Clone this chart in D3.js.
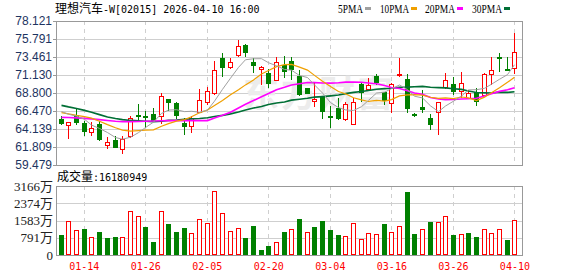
<!DOCTYPE html>
<html><head><meta charset="utf-8">
<script src="https://cdn.jsdelivr.net/npm/d3@7/dist/d3.min.js"></script>
<style>body{margin:0;background:#fff;}svg{display:block;}</style>
</head><body>
<svg id="chart" width="578" height="276"></svg>
<script>
const dates = ["01-09","01-12","01-13","01-14","01-15","01-16","01-19","01-20","01-21","01-22",
"01-23","01-26","01-27","01-28","01-29","01-30","02-02","02-03","02-04","02-05",
"02-06","02-09","02-10","02-11","02-12","02-13","02-16","02-20","02-23","02-24",
"02-25","02-26","02-27","03-02","03-03","03-04","03-05","03-06","03-09","03-10",
"03-11","03-12","03-13","03-16","03-17","03-18","03-19","03-20","03-23","03-24",
"03-25","03-26","03-27","03-30","03-31","04-01","04-02","04-08","04-09","04-10"];
const open = [65.43,64.62,65.95,64.96,63.80,64.74,62.11,62.72,61.51,63.19,
65.99,65.87,66.08,65.78,67.98,67.51,64.96,64.48,66.38,67.59,
68.76,73.29,72.17,73.72,74.97,72.86,71.95,71.43,70.44,72.40,
72.95,71.00,69.45,67.76,68.28,65.82,66.82,65.39,64.83,69.92,
69.36,71.00,68.97,67.55,71.17,70.57,66.12,66.99,65.56,66.34,
69.62,69.97,69.06,68.11,68.93,68.54,71.30,73.42,71.95,71.99];
const high = [65.82,65.10,66.82,65.18,65.05,65.18,63.11,63.23,63.23,65.82,
67.38,66.47,66.82,68.80,67.98,67.59,65.61,65.82,69.28,69.53,
72.94,73.94,73.29,75.62,75.10,73.37,72.25,71.95,73.46,73.60,
73.50,71.78,69.50,70.18,68.28,67.12,68.11,67.64,68.20,70.14,
70.79,71.30,68.97,70.05,73.29,71.22,66.25,69.15,66.04,67.64,
71.35,70.87,71.52,69.23,69.49,71.43,73.50,73.98,73.46,76.52];
const low = [64.83,63.02,64.74,63.36,63.36,62.72,61.64,61.80,61.08,63.10,
65.43,64.40,65.18,64.96,66.64,65.61,63.45,63.80,66.38,67.42,
68.70,71.00,72.08,73.65,73.63,71.56,70.01,69.62,70.44,70.90,
70.60,68.60,68.80,67.16,65.61,64.40,65.39,65.26,64.74,67.76,
69.28,69.92,67.33,66.38,71.00,66.38,65.82,66.38,64.18,63.45,
69.49,68.72,68.28,68.11,67.25,68.54,70.01,71.65,71.82,71.43];
const close = [64.98,65.05,65.09,63.88,64.23,62.80,62.41,61.85,62.80,65.52,
65.78,65.69,65.35,68.45,67.68,65.99,64.48,65.56,67.85,69.10,
71.74,72.12,72.77,74.84,74.06,72.38,72.17,70.14,72.86,71.70,
71.90,68.72,68.84,68.07,66.47,65.69,65.52,67.33,67.64,68.97,
69.79,70.22,67.89,69.97,71.30,66.82,65.95,66.77,64.83,67.59,
70.44,69.06,70.10,68.80,67.76,71.30,71.74,73.29,71.82,74.15];
// volume in 万 shares
const volume = [918,1560,1132,1193,810,1055,780,826,810,2004,
1774,1285,596,2004,1422,1055,1239,994,1636,1468,
2921,1927,1086,1223,780,1331,229,413,596,1055,
1177,1652,1055,1285,1560,1147,918,856,1468,719,
1009,963,1422,1055,1315,2890,963,1177,1514,1499,
1774,918,963,1009,826,1177,1009,1177,688,1618];
const ma5Lead = [66.40,66.05,65.80,65.40];
const ma10Lead = [66.25,66.10,65.90,65.75,65.55,65.15,64.70,64.30,64.00];
const ma20Lead = [65.65,65.62,65.58,65.52,65.45,65.35,65.25,65.15,65.10,65.10,65.12,65.15,65.18,65.20,65.22,65.22,65.22,65.22,65.22];
const ma30Lead = [67.20,67.00,66.80,66.55,66.30,66.00,65.70,65.50,65.35,65.25,65.20,65.15,65.10,65.15,65.25,65.30,65.40,65.45,65.50,65.60,65.75,65.90,66.10,66.35,66.60,66.85,67.05,67.30,67.50];
const priceTickLabels = ["78.121","75.791","73.461","71.130","68.800","66.470","64.139","61.809","59.479"];
const volTickValues = [0,791.5,1583,2374.5,3166];
const volTickLabels = ["0","791万","1583万","2374万","3166万"];
const xTickDates = ["01-14","01-26","02-05","02-20","03-04","03-16","03-26","04-10"];
const maNames = ["5PMA","10PMA","20PMA","30PMA"];
const maColors = ["#a0a0a0","#f0a000","#ff00ff","#006f35"];
const titleCn = "理想汽车", titleRest = "-W[02015] 2026-04-10 16:00";
const volTitleCn = "成交量", volTitleRest = ":16180949";

const svg = d3.select("#chart");
const L = 56, R = 522, PT = 21, PB = 165, VT = 186, VB = 255;
const x = d3.scaleBand().domain(dates).range([56.85, 518.25]).padding(0);
const cx = i => Math.round(x(dates[i]) + x.bandwidth() / 2);
const yP = d3.scaleLinear().domain([59.479, 78.121]).range([PB, PT]);
const yV = d3.scaleLinear().domain([0, 3166]).range([VB, VT]);
const RED = "#ff0000", GREEN = "#008000", GRID = "#cfcfcf", FRAME = "#999";

// price panel grid
const g = svg.append("g").attr("shape-rendering", "crispEdges");
priceTickLabels.map(Number).forEach(v => {
  const yy = Math.round(yP(v)) + 0.5;
  g.append("line").attr("x1", L).attr("x2", R).attr("y1", yy).attr("y2", yy).attr("stroke", GRID);
});
volTickValues.slice(1, 4).forEach(v => {
  const yy = Math.round(yV(v)) + 0.5;
  g.append("line").attr("x1", L).attr("x2", R).attr("y1", yy).attr("y2", yy).attr("stroke", GRID);
});
xTickDates.forEach(d => {
  const xx = cx(dates.indexOf(d)) + 0.5;
  g.append("line").attr("x1", xx).attr("x2", xx).attr("y1", PT).attr("y2", PB).attr("stroke", GRID).attr("stroke-dasharray", "4,4");
  g.append("line").attr("x1", xx).attr("x2", xx).attr("y1", VT).attr("y2", VB).attr("stroke", GRID).attr("stroke-dasharray", "4,4");
});

// watermark
svg.append("text").attr("x", 243).attr("y", 107).attr("font-family", "Noto Sans CJK SC")
  .attr("font-size", 36).attr("font-weight", "bold").attr("fill", "#ececec").attr("letter-spacing", 2).text("东方财富");

// candles
const cg = svg.append("g").attr("shape-rendering", "crispEdges");
dates.forEach((d, i) => {
  const up = close[i] >= open[i];
  const c = cx(i);
  const col = up ? RED : GREEN;
  cg.append("line").attr("x1", c + 0.5).attr("x2", c + 0.5)
    .attr("y1", Math.round(yP(high[i]))).attr("y2", Math.round(yP(low[i])) + 1).attr("stroke", col);
  const yT = Math.round(yP(Math.max(open[i], close[i])));
  const yB = Math.round(yP(Math.min(open[i], close[i])));
  if (up) {
    cg.append("rect").attr("x", c - 2 + 0.5).attr("y", yT + 0.5).attr("width", 4).attr("height", Math.max(1, yB - yT))
      .attr("fill", "#fff").attr("stroke", col);
  } else {
    cg.append("rect").attr("x", c - 2).attr("y", yT).attr("width", 5).attr("height", Math.max(1, yB - yT + 1))
      .attr("fill", col);
  }
});

// moving averages
function movingAvg(n, lead) {
  return close.map((c, i) => i < n - 1 ? lead[i] : d3.mean(close.slice(i - n + 1, i + 1)));
}
const mas = [movingAvg(5, ma5Lead), movingAvg(10, ma10Lead), movingAvg(20, ma20Lead), movingAvg(30, ma30Lead)];
const widths = [1, 1.2, 1.6, 1.6];
const line = d3.line().x((v, i) => cx(i) + 0.5).y(v => yP(v));
[3, 2, 1, 0].forEach(k => {
  svg.append("path").attr("d", line(mas[k])).attr("fill", "none").attr("stroke", maColors[k]).attr("stroke-width", widths[k]);
});

// volume bars
const vg = svg.append("g").attr("shape-rendering", "crispEdges");
dates.forEach((d, i) => {
  const up = i === 0 ? close[i] >= open[i] : close[i] >= close[i - 1];
  const c = cx(i);
  const yt = Math.round(yV(volume[i]));
  if (up) {
    vg.append("rect").attr("x", c - 2 + 0.5).attr("y", yt + 0.5).attr("width", 4).attr("height", VB - yt - 1)
      .attr("fill", "#fff").attr("stroke", RED);
  } else {
    vg.append("rect").attr("x", c - 2).attr("y", yt).attr("width", 5).attr("height", VB - yt).attr("fill", GREEN);
  }
});

// frames
svg.append("rect").attr("x", L + 0.5).attr("y", PT + 0.5).attr("width", R - L).attr("height", PB - PT)
  .attr("fill", "none").attr("stroke", FRAME).attr("shape-rendering", "crispEdges");
svg.append("rect").attr("x", L + 0.5).attr("y", VT + 0.5).attr("width", R - L).attr("height", VB - VT)
  .attr("fill", "none").attr("stroke", FRAME).attr("shape-rendering", "crispEdges");

// axes
const ay = svg.append("g").attr("transform", `translate(${L},0)`)
  .call(d3.axisLeft(yP).tickValues(priceTickLabels.map(Number)).tickFormat((d, i) => priceTickLabels[i]).tickSize(3).tickPadding(1));
ay.select(".domain").remove();
ay.selectAll("line").attr("stroke", FRAME).attr("shape-rendering", "crispEdges");
ay.selectAll("text").attr("font-family", "Liberation Sans, Arial, sans-serif").attr("font-size", 12).attr("fill", "#1d3461");

const av = svg.append("g").attr("transform", `translate(${L},0)`)
  .call(d3.axisLeft(yV).tickValues(volTickValues).tickFormat((d, i) => volTickLabels[i]).tickSize(0).tickPadding(3));
av.select(".domain").remove();
av.selectAll("text").attr("font-family", "Liberation Serif, Noto Sans CJK SC, serif").attr("font-size", 13).attr("fill", "#222");

const ax = svg.append("g").attr("transform", `translate(0,${VB})`)
  .call(d3.axisBottom(x).tickValues(xTickDates).tickSize(0).tickPadding(0));
ax.select(".domain").remove();
ax.selectAll("text").attr("x", 0.5).attr("y", 0).attr("dy", 15).attr("font-family", "DejaVu Sans Mono, monospace")
  .attr("font-size", 10).attr("fill", RED);

// titles
const t1 = svg.append("text").attr("x", 55).attr("y", 13).attr("fill", "#000");
t1.append("tspan").attr("font-family", "Noto Sans CJK SC").attr("font-size", 12).text(titleCn);
t1.append("tspan").attr("font-family", "DejaVu Sans Mono, monospace").attr("font-size", 10).text(titleRest);

const t2 = svg.append("text").attr("x", 57).attr("y", 181).attr("fill", "#000");
t2.append("tspan").attr("font-family", "Noto Sans CJK SC").attr("font-size", 12).text(volTitleCn);
t2.append("tspan").attr("font-family", "DejaVu Sans Mono, monospace").attr("font-size", 10).text(volTitleRest);

// legend
const legX = [338, 380, 425, 472];
const legW = [25, 29, 30, 30];
maNames.forEach((n, k) => {
  svg.append("text").attr("x", legX[k]).attr("y", 12.5).attr("font-family", "Liberation Serif, serif")
    .attr("font-size", 12).attr("textLength", legW[k]).attr("lengthAdjust", "spacingAndGlyphs").attr("fill", "#000").text(n);
  svg.append("rect").attr("x", legX[k] + legW[k] + 2).attr("y", 7).attr("width", 6).attr("height", 3).attr("fill", maColors[k]);
});
</script>
</body></html>
